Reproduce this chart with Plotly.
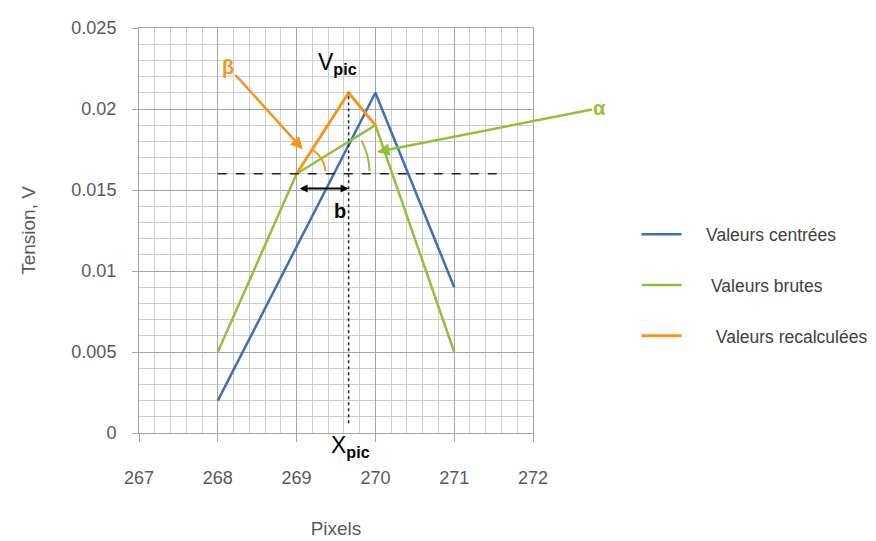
import math

import plotly.graph_objects as go

FONT_FAMILY = "Liberation Sans, Arial, sans-serif"

# données
pixels_centrees = [268, 269, 270, 271]
tension_centrees = [0.002, 0.0115, 0.021, 0.009]

pixels_brutes = [268, 269, 270, 271]
tension_brutes = [0.005, 0.016, 0.019, 0.005]

pixels_recalc = [269, 269.66, 270]
tension_recalc = [0.016, 0.021, 0.019]

x_pic = 269.66
v_pic = 0.021
v_base = 0.016

BLUE = "#3d70b8"
GREEN = "#92c03a"
ORANGE = "#f7941d"

# échelle approximative (px par unité) pour dessiner les arcs d'angle
PX_X = 78.8
PX_Y = 16200.0


def arc_path(cx, cy, r_px, a0, a1):
    """Arc de cercle (en pixels) converti en chemin SVG dans le repère des données."""
    half = math.radians(a0 - a1) / 2
    mid = math.radians(a0 + a1) / 2
    p0 = (cx + r_px * math.cos(math.radians(a0)) / PX_X, cy + r_px * math.sin(math.radians(a0)) / PX_Y)
    p1 = (cx + r_px * math.cos(math.radians(a1)) / PX_X, cy + r_px * math.sin(math.radians(a1)) / PX_Y)
    rc = r_px / math.cos(half)
    pc = (cx + rc * math.cos(mid) / PX_X, cy + rc * math.sin(mid) / PX_Y)
    return f"M {p0[0]},{p0[1]} Q {pc[0]},{pc[1]} {p1[0]},{p1[1]}"


fig = go.Figure()
fig.add_trace(go.Scatter(x=pixels_centrees, y=tension_centrees, mode="lines",
                         name="    Valeurs centrées", legendgroup="a",
                         line={"color": BLUE, "width": 2.5}))
fig.add_trace(go.Scatter(x=pixels_brutes, y=tension_brutes, mode="lines",
                         name="     Valeurs brutes", legendgroup="b",
                         line={"color": GREEN, "width": 2.5}))
fig.add_trace(go.Scatter(x=pixels_recalc, y=tension_recalc, mode="lines",
                         name="      Valeurs recalculées", legendgroup="c",
                         line={"color": ORANGE, "width": 3}))

# lignes de construction
fig.add_shape(type="line", x0=268, x1=271.54, y0=v_base, y1=v_base,
              line={"color": "#222222", "width": 1.5, "dash": "dash"})
fig.add_shape(type="line", x0=x_pic, x1=x_pic, y0=0.0006, y1=v_pic,
              line={"color": "#222222", "width": 1.5, "dash": "dot"})

# arcs des angles
fig.add_shape(type="path", path=arc_path(269, v_base, 29, 57, 5),
              line={"color": ORANGE, "width": 2})
fig.add_shape(type="path", path=arc_path(269, v_base, 73, 27, 2),
              line={"color": GREEN, "width": 2})

# flèche double b
fig.add_annotation(x=x_pic, y=0.0151, ax=269, ay=0.0151, xref="x", yref="y",
                   axref="x", ayref="y", text=" ", showarrow=True,
                   arrowhead=2, startarrowhead=2, arrowside="end+start",
                   arrowwidth=2, arrowcolor="black", arrowsize=0.8)
fig.add_annotation(x=269.55, y=0.0137, text="<b>b</b>", showarrow=False,
                   font={"size": 20, "color": "black"})

# labels
fig.add_annotation(x=269.52, y=0.0228, text="V<sub><b>pic</b></sub>", showarrow=False,
                   font={"size": 23, "color": "black"})
fig.add_annotation(x=269.68, xref="x", y=-0.075, yref="paper",
                   text="X<sub><b>pic</b></sub>", showarrow=False,
                   font={"size": 23, "color": "black"})

fig.add_annotation(x=269.08, y=0.0175, ax=-75, ay=-83, text="<b>β</b>",
                   showarrow=True, arrowhead=2, arrowsize=1, arrowwidth=2.5,
                   arrowcolor=ORANGE, standoff=0,
                   font={"size": 20, "color": ORANGE})
fig.add_annotation(x=270.02, y=0.01735, ax=223, ay=-44, text="<b>α</b>",
                   showarrow=True, arrowhead=2, arrowsize=1, arrowwidth=2.5,
                   arrowcolor=GREEN, standoff=0,
                   font={"size": 20, "color": GREEN})

fig.update_layout(
    width=876,
    height=541,
    margin={"l": 131, "r": 351, "t": 20, "b": 116, "autoexpand": False},
    plot_bgcolor="white",
    paper_bgcolor="white",
    font={"family": FONT_FAMILY, "color": "#595959"},
    showlegend=True,
    legend={
        "x": 1.263, "y": 0.535, "xanchor": "left", "yanchor": "top",
        "font": {"size": 17.5, "color": "#404040"},
        "tracegroupgap": 25, "itemwidth": 40, "bgcolor": "rgba(0,0,0,0)",
    },
)
fig.update_xaxes(
    range=[267, 272], dtick=1, tick0=267,
    showgrid=True, gridcolor="#a6a6a6", gridwidth=1,
    minor={"dtick": 0.2, "showgrid": True, "gridcolor": "#cfcfcf", "gridwidth": 1},
    showline=True, linecolor="#a6a6a6", mirror=True,
    ticks="outside", ticklen=8, tickcolor="#a6a6a6", ticklabelstandoff=20,
    tickfont={"size": 18, "color": "#595959"},
    title={"text": "Pixels", "font": {"size": 19, "color": "#595959"}, "standoff": 35},
    zeroline=False,
)
fig.update_yaxes(
    range=[0, 0.025], dtick=0.005, tick0=0,
    showgrid=True, gridcolor="#a6a6a6", gridwidth=1,
    minor={"dtick": 0.001, "showgrid": True, "gridcolor": "#cfcfcf", "gridwidth": 1},
    showline=True, linecolor="#a6a6a6", mirror=True,
    ticks="outside", ticklen=6, tickcolor="#a6a6a6", ticklabelstandoff=12,
    tickfont={"size": 18, "color": "#595959"},
    title={"text": "Tension, V", "font": {"size": 19, "color": "#595959"}, "standoff": 30},
    zeroline=False,
)

fig.write_html("out.html")
